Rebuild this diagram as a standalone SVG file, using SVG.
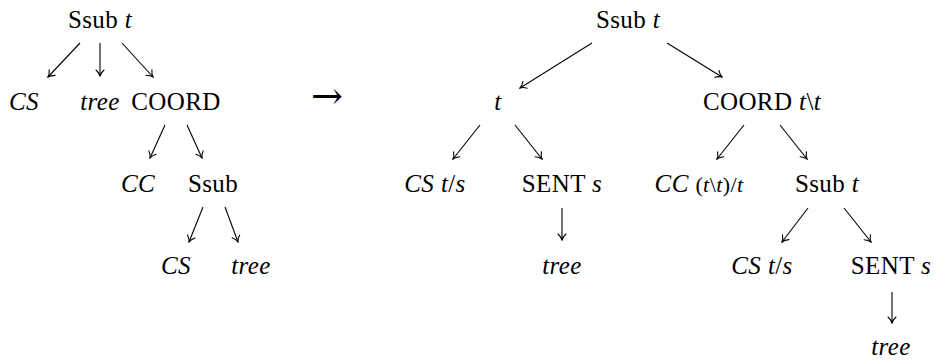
<svg xmlns="http://www.w3.org/2000/svg" width="938" height="361" viewBox="0 0 938 361" font-family="'Liberation Serif', 'DejaVu Serif', 'Noto Serif', 'Times New Roman', Times, serif">
<style>
text{font-family:'Liberation Serif','DejaVu Serif','Noto Serif','Times New Roman',Times,serif;font-size:25px;fill:#000;text-anchor:middle;letter-spacing:0.4px}
.i{font-style:italic}
.sm{font-size:22px}
.arr{font-family:'DejaVu Serif','Liberation Serif',serif;font-size:38px;letter-spacing:0}
.edge{stroke:#000;stroke-width:1.1;fill:none;marker-end:url(#to)}
</style>
<defs>
<marker id="to" viewBox="-7 -5 8 10" markerWidth="8" markerHeight="10" refX="0" refY="0" orient="auto" markerUnits="userSpaceOnUse">
<path d="M-6,-4 C-4,-1.8 -1.5,-0.4 0,0 C-1.5,0.4 -4,1.8 -6,4" fill="none" stroke="#000" stroke-width="1.1" stroke-linecap="round"/>
</marker>
</defs>
<rect width="938" height="361" fill="#fff"/>
<g id="connectors">
<line class="edge" x1="80" y1="43" x2="48" y2="77"/>
<line class="edge" x1="100" y1="43" x2="100" y2="76"/>
<line class="edge" x1="122" y1="43" x2="153" y2="77"/>
<line class="edge" x1="165" y1="125" x2="150" y2="158"/>
<line class="edge" x1="187" y1="125" x2="202" y2="158"/>
<line class="edge" x1="203" y1="207" x2="189" y2="242"/>
<line class="edge" x1="225" y1="207" x2="238" y2="242"/>
<line class="edge" x1="592" y1="43" x2="520" y2="88"/>
<line class="edge" x1="667" y1="43" x2="722" y2="77"/>
<line class="edge" x1="480" y1="125" x2="453" y2="159"/>
<line class="edge" x1="515" y1="125" x2="542" y2="159"/>
<line class="edge" x1="562" y1="208" x2="562" y2="240"/>
<line class="edge" x1="744" y1="125" x2="717" y2="159"/>
<line class="edge" x1="780" y1="125" x2="807" y2="159"/>
<line class="edge" x1="808" y1="208" x2="782" y2="242"/>
<line class="edge" x1="844" y1="208" x2="871" y2="242"/>
<line class="edge" x1="892" y1="292" x2="892" y2="323"/>
</g>
<g id="L-root"><text x="100" y="28">Ssub <tspan class="i">t</tspan></text></g>
<g id="L-cs1"><text class="i" x="24" y="110">CS</text></g>
<g id="L-tree1"><text class="i" x="100" y="110">tree</text></g>
<g id="L-coord"><text x="176" y="110">COORD</text></g>
<g id="L-cc"><text class="i" x="138" y="192">CC</text></g>
<g id="L-ssub"><text x="213" y="192">Ssub</text></g>
<g id="L-cs2"><text class="i" x="176" y="274">CS</text></g>
<g id="L-tree2"><text class="i" x="251" y="274">tree</text></g>
<g id="transform"><text class="arr" x="327" y="109">→</text></g>
<g id="R-root"><text x="628" y="28">Ssub <tspan class="i">t</tspan></text></g>
<g id="R-t"><text class="i" x="498" y="110">t</text></g>
<g id="R-coord"><text x="762" y="110">COORD <tspan class="i">t</tspan>\<tspan class="i">t</tspan></text></g>
<g id="R-cs1"><text x="435" y="192"><tspan class="i">CS</tspan>  <tspan class="i">t</tspan>/<tspan class="i">s</tspan></text></g>
<g id="R-sent1"><text x="562" y="192">SENT <tspan class="i">s</tspan></text></g>
<g id="R-cc"><text x="699" y="192"><tspan class="i">CC</tspan> <tspan class="sm">(<tspan class="i">t</tspan>\<tspan class="i">t</tspan>)/<tspan class="i">t</tspan></tspan></text></g>
<g id="R-ssub"><text x="827" y="192">Ssub <tspan class="i">t</tspan></text></g>
<g id="R-tree1"><text class="i" x="562" y="274">tree</text></g>
<g id="R-cs2"><text x="762" y="274"><tspan class="i">CS</tspan> <tspan class="i">t</tspan>/<tspan class="i">s</tspan></text></g>
<g id="R-sent2"><text x="891" y="274">SENT <tspan class="i">s</tspan></text></g>
<g id="R-tree2"><text class="i" x="891" y="355">tree</text></g>
</svg>
